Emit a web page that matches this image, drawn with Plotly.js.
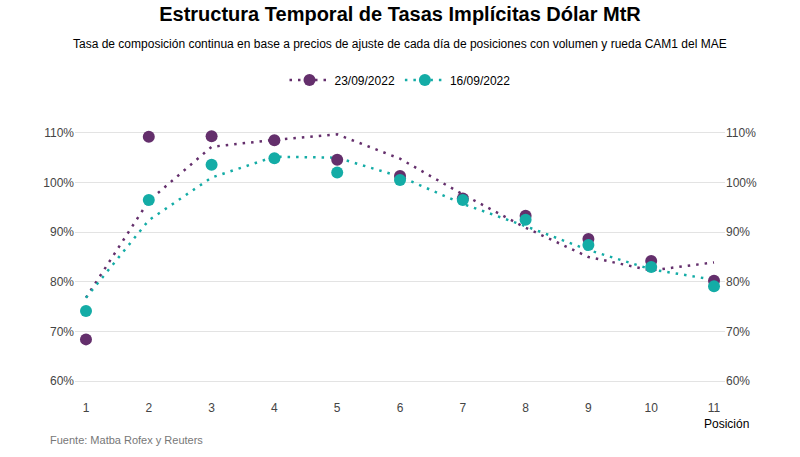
<!DOCTYPE html>
<html><head><meta charset="utf-8">
<script src="https://cdn.plot.ly/plotly-3.0.1.min.js"></script>
<style>body{margin:0}#c{width:800px;height:457px}</style></head>
<body><div id="c"></div>
<script>
const positions=[1,2,3,4,5,6,7,8,9,10,11];
const lab1='23/09/2022', lab2='16/09/2022';
const pts1=[68.4,109.2,109.3,108.5,104.6,101.3,96.8,93.3,88.6,84.2,80.2];
const pts2=[74.1,96.5,103.6,104.9,102.0,100.5,96.5,92.5,87.4,83.0,79.1];
const fit1=[76.8,96.3,107.2,108.6,109.7,104.8,97.6,90.9,85.0,82.3,83.9];
const fit2=[76.8,92.4,101.0,105.2,105.0,101.2,95.7,91.2,86.4,82.5,80.4];
const tickv=[60,70,80,90,100,110];
const tickt=tickv.map(v=>v+'%');
const c1='#642f6c', c2='#14aca6';
const dot='2.5px,6px';
const traces=[
 {x:positions,y:fit1,mode:'lines',line:{color:c1,dash:dot,width:2.5},showlegend:false,hoverinfo:'skip'},
 {x:positions,y:fit2,mode:'lines',line:{color:c2,dash:dot,width:2.5},showlegend:false,hoverinfo:'skip'},
 {x:positions,y:pts1,name:lab1,mode:'markers',marker:{color:c1,size:12},showlegend:false},
 {x:positions,y:pts2,name:lab2,mode:'markers',marker:{color:c2,size:12},showlegend:false},
 {x:[null],y:[null],name:lab1,mode:'lines+markers',line:{color:c1,dash:dot,width:2.5},marker:{color:c1,size:12}},
 {x:[null],y:[null],name:lab2,mode:'lines+markers',line:{color:c2,dash:dot,width:2.5},marker:{color:c2,size:12}},
 {x:[1],y:[60],yaxis:'y2',mode:'markers',marker:{opacity:0},showlegend:false,hoverinfo:'skip'}
];
const layout={
 width:800,height:457,margin:{l:75,r:75,t:117,b:66},
 paper_bgcolor:'white',plot_bgcolor:'white',
 font:{family:'Liberation Sans, Arial',color:'#333'},
 title:{text:'<b>Estructura Temporal de Tasas Implícitas Dólar MtR</b>',x:0.5,y:0.985,yanchor:'top',font:{size:20,color:'#000'}},
 annotations:[
  {text:'Tasa de composición continua en base a precios de ajuste de cada día de posiciones con volumen y rueda CAM1 del MAE',xref:'paper',yref:'paper',x:0.5,y:1.0,yshift:82,showarrow:false,font:{size:12,color:'#000'}},
  {text:'Fuente: Matba Rofex y Reuters',xref:'paper',yref:'paper',x:-0.042,xanchor:'left',y:0,yshift:-57,showarrow:false,font:{size:11,color:'#777'}},
  {text:'Posición',xref:'paper',yref:'paper',x:1.04,xanchor:'right',y:0,yshift:-42,showarrow:false,font:{size:12,color:'#000'}}
 ],
 legend:{orientation:'h',x:0.5,xanchor:'center',y:1.135,yanchor:'middle',font:{size:12,color:'#000'},itemwidth:40},
 xaxis:{range:[0.825,11.175],tickvals:positions,showgrid:false,zeroline:false,ticks:'',ticklabelstandoff:8,tickfont:{size:12,color:'#444'}},
 yaxis:{range:[58,113.2],tickvals:tickv,ticktext:tickt,gridcolor:'#e3e3e3',zeroline:false,tickfont:{size:12,color:'#444'}},
 yaxis2:{range:[58,113.2],tickvals:tickv,ticktext:tickt,overlaying:'y',side:'right',showgrid:false,zeroline:false,tickfont:{size:12,color:'#444'}}
};
Plotly.newPlot('c',traces,layout,{displayModeBar:false,staticPlot:true});
</script></body></html>
